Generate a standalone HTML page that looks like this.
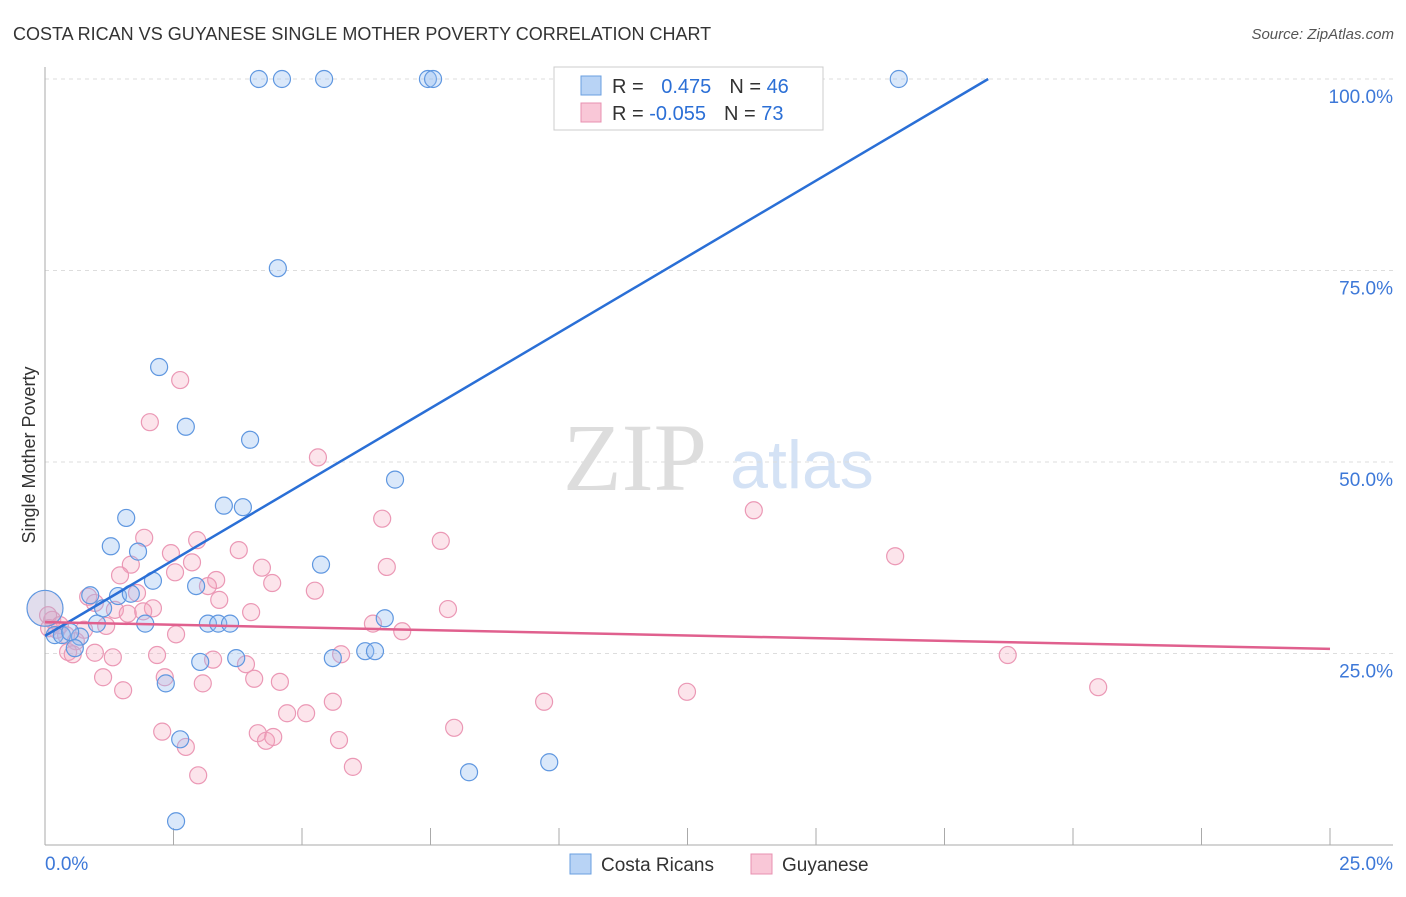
<!DOCTYPE html>
<html><head><meta charset="utf-8"><style>
body{margin:0;background:#fff;font-family:"Liberation Sans",sans-serif}
svg text{font-family:"Liberation Sans",sans-serif}
</style></head><body>
<svg id="c" width="1406" height="892" xmlns="http://www.w3.org/2000/svg">
<text x="13" y="40" font-size="18" fill="#333">COSTA RICAN VS GUYANESE SINGLE MOTHER POVERTY CORRELATION CHART</text>
<text x="1394" y="39" font-size="15" fill="#555" text-anchor="end" font-style="italic">Source: ZipAtlas.com</text>
<text x="635" y="490" font-size="96" fill="#ddd" text-anchor="middle" font-family="Liberation Serif" style="font-family:'Liberation Serif',serif">ZIP</text>
<text x="802" y="488" font-size="68" fill="#d4e2f5" text-anchor="middle">atlas</text>
<g id="grid"></g><g id="axes"></g><g id="pts"></g><g id="lines"></g>
<text x="35" y="455" font-size="18" fill="#333" text-anchor="middle" transform="rotate(-90 35 455)">Single Mother Poverty</text>
<g>
<rect x="554" y="67" width="269" height="63" fill="#fff" stroke="#ccc"/>
<rect x="581" y="76" width="20" height="19" fill="#b8d3f5" stroke="#6a9fe0"/>
<rect x="581" y="103" width="20" height="19" fill="#f9c7d7" stroke="#e890b0"/>
<text x="612" y="93" font-size="20" fill="#333">R = <tspan fill="#2b6fd6" dx="12">0.475</tspan><tspan dx="18">N = </tspan><tspan fill="#2b6fd6">46</tspan></text>
<text x="612" y="120" font-size="20" fill="#333">R = <tspan fill="#2b6fd6">-0.055</tspan><tspan dx="18">N = </tspan><tspan fill="#2b6fd6">73</tspan></text>
</g>
<g>
<rect x="570" y="854" width="21" height="20" fill="#b8d3f5" stroke="#6a9fe0"/>
<text x="601" y="871" font-size="19" fill="#333">Costa Ricans</text>
<rect x="751" y="854" width="21" height="20" fill="#f9c7d7" stroke="#e890b0"/>
<text x="782" y="871" font-size="19" fill="#333">Guyanese</text>
</g>
</svg>
<script>
const blueX=[4.16,4.61,5.43,7.45,7.55,16.61,4.53,2.22,2.74,3.99,6.81,3.48,3.85,1.58,1.28,1.81,5.37,2.10,2.94,0.88,1.42,1.67,1.13,1.95,1.01,3.17,3.37,3.60,6.61,0.19,0.33,0.68,0.49,0.58,3.02,3.72,5.60,6.23,6.42,2.35,2.63,8.25,9.81,2.55];
const blueY=[100,100,100,100,100,100,75.3,62.4,54.6,52.9,47.7,44.3,44.1,42.7,39.0,38.3,36.6,34.5,33.8,32.6,32.5,32.8,30.9,28.9,28.9,28.9,28.9,28.9,29.6,27.4,27.4,27.2,27.8,25.7,23.9,24.4,24.4,25.3,25.3,21.1,13.8,9.5,10.8,3.1];
const pinkX=[2.63,2.04,5.31,13.79,6.56,7.70,1.93,2.96,3.77,2.45,2.86,4.22,6.65,16.54,1.67,1.46,2.53,3.33,3.17,4.42,5.25,0.84,1.79,0.97,1.36,2.10,1.61,1.91,3.39,4.01,7.84,1.19,0.76,2.55,6.38,6.95,0.14,0.23,0.41,0.60,0.45,0.54,0.97,1.32,2.18,3.27,3.91,5.76,18.73,1.13,2.33,3.07,4.07,4.57,1.52,5.60,9.71,12.49,20.49,4.71,5.08,2.28,2.74,4.14,4.30,4.44,5.72,7.96,5.99,2.98,0.06,0.29,0.08];
const pinkY=[60.7,55.2,50.6,43.7,42.6,39.7,40.1,39.8,38.5,38.1,36.9,36.2,36.3,37.7,36.6,35.2,35.6,34.6,33.8,34.2,33.2,32.4,32.9,31.6,30.7,30.9,30.2,30.5,32.0,30.4,30.8,28.6,28.1,27.5,28.9,27.9,29.4,28.1,27.4,26.6,25.2,24.9,25.1,24.5,24.8,24.2,23.6,24.9,24.8,21.9,21.9,21.1,21.7,21.3,20.2,18.7,18.7,20.0,20.6,17.2,17.2,14.8,12.8,14.6,13.6,14.1,13.7,15.3,10.2,9.1,30.0,28.7,28.3];
const bigBlue=[0,30.9];
const blueTrend=[[0,27.3],[18.35,100]];
const pinkTrend=[[0,29.1],[25,25.6]];
const yTicks=[25,50,75,100];
const xTicks=[0,2.5,5,7.5,10,12.5,15,17.5,20,22.5,25];
const NS="http://www.w3.org/2000/svg";
const sx=v=>45+v/25*1285, sy=v=>845-v/100*766;
function mk(t,a,p){const e=document.createElementNS(NS,t);for(const k in a)e.setAttribute(k,a[k]);document.getElementById(p).appendChild(e);return e;}
yTicks.forEach(t=>{
 const l=mk('line',{x1:45,x2:1393,y1:sy(t),y2:sy(t),stroke:'#ddd','stroke-dasharray':'4,4'},'grid');
 
 
 const tx=mk('text',{x:1393,y:sy(t)+24,'font-size':19,fill:'#3d78d8','text-anchor':'end'},'axes');
 tx.textContent=t.toFixed(1)+'%';
 
 
});
let ax=mk('line',{x1:45,x2:45,y1:67,y2:845,stroke:'#aaa'},'axes');


ax=mk('line',{x1:45,x2:1393,y1:845,y2:845,stroke:'#aaa'},'axes');


xTicks.forEach(t=>{
 const l=mk('line',{x1:sx(t),x2:sx(t),y1:828,y2:845,stroke:'#aaa'},'axes');
 
 
});
[[0,'0.0%',45,'start'],[25,'25.0%',1393,'end']].forEach(d=>{
 const tx=mk('text',{x:d[2],y:870,'font-size':19,fill:'#3d78d8','text-anchor':d[3]},'axes');
 tx.textContent=d[1];
 
 
});
pinkX.forEach((x,i)=>{
 const c=mk('circle',{cx:sx(x),cy:sy(pinkY[i]),r:8.5,fill:'rgba(245,165,190,0.3)',stroke:'#eb98b5','stroke-width':1.2},'pts');
 
 
});
blueX.forEach((x,i)=>{
 const c=mk('circle',{cx:sx(x),cy:sy(blueY[i]),r:8.5,fill:'rgba(150,190,240,0.35)',stroke:'#5f97e0','stroke-width':1.2},'pts');
 
 
});
let bc=mk('circle',{cx:sx(bigBlue[0]),cy:sy(bigBlue[1]),r:18,fill:'rgba(180,170,210,0.4)',stroke:'#5f97e0','stroke-width':1.2},'pts');


let tl=mk('line',{x1:sx(blueTrend[0][0]),y1:sy(blueTrend[0][1]),x2:sx(blueTrend[1][0]),y2:sy(blueTrend[1][1]),stroke:'#2a6fd6','stroke-width':2.5},'lines');


tl=mk('line',{x1:sx(pinkTrend[0][0]),y1:sy(pinkTrend[0][1]),x2:sx(pinkTrend[1][0]),y2:sy(pinkTrend[1][1]),stroke:'#e0608e','stroke-width':2.5},'lines');


</script>
</body></html>
